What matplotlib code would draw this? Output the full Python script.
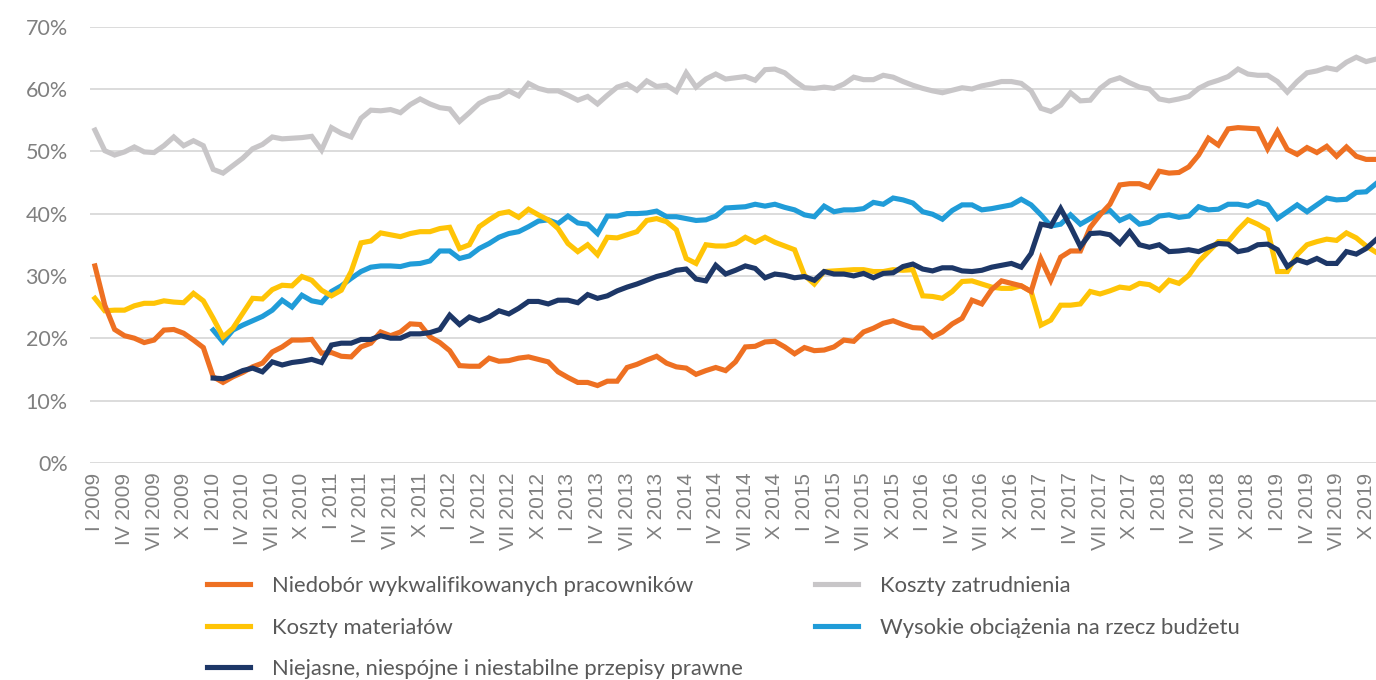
import matplotlib
matplotlib.use("Agg")
import matplotlib.pyplot as plt
import numpy as np

# ==========================================
# DATA (monthly, I 2009 .. XI 2019)
# ==========================================

start_year = 2009
roman = ["I", "II", "III", "IV", "V", "VI", "VII", "VIII", "IX", "X", "XI", "XII"]

niedobor = [
    31.6, 25.3, 21.4, 20.4, 20.0, 19.3, 19.7, 21.3, 21.4, 20.8, 19.7, 18.5,
    13.8, 12.9, 13.8, 14.5, 15.4, 16.0, 17.8, 18.6, 19.7, 19.7, 19.8, 17.6,
    17.7, 17.1, 17.0, 18.6, 19.2, 21.0, 20.4, 21.0, 22.3, 22.2, 20.2, 19.3,
    18.0, 15.6, 15.5, 15.5, 16.8, 16.3, 16.4, 16.8, 17.0, 16.6, 16.2, 14.6,
    13.7, 12.9, 12.9, 12.4, 13.1, 13.1, 15.3, 15.8, 16.5, 17.1, 16.0, 15.4,
    15.2, 14.2, 14.8, 15.3, 14.8, 16.2, 18.6, 18.7, 19.4, 19.5, 18.6, 17.5,
    18.5, 18.0, 18.1, 18.6, 19.7, 19.5, 21.0, 21.6, 22.4, 22.8, 22.2, 21.7,
    21.6, 20.2, 21.0, 22.3, 23.2, 26.1, 25.5, 27.8, 29.2, 28.8, 28.4, 27.5,
    32.7, 29.3, 33.0, 34.0, 34.0, 37.8, 39.8, 41.5, 44.6, 44.8, 44.8, 44.2,
    46.8, 46.5, 46.6, 47.5, 49.4, 52.1, 51.0, 53.6, 53.8, 53.7, 53.6, 50.4,
    53.2, 50.3, 49.5, 50.6, 49.8, 50.8, 49.2, 50.7, 49.2, 48.7, 48.7,
]

koszty_zatr = [
    53.4, 50.1, 49.4, 49.9, 50.7, 49.9, 49.8, 50.9, 52.3, 50.9, 51.7, 50.9,
    47.1, 46.5, 47.7, 48.9, 50.4, 51.1, 52.3, 52.0, 52.1, 52.2, 52.4, 50.2,
    53.8, 52.9, 52.3, 55.3, 56.6, 56.5, 56.7, 56.2, 57.5, 58.4, 57.6, 57.0,
    56.8, 54.8, 56.2, 57.7, 58.5, 58.8, 59.7, 58.9, 60.9, 60.1, 59.7, 59.7,
    59.0, 58.2, 58.8, 57.6, 59.0, 60.3, 60.8, 59.8, 61.3, 60.4, 60.6, 59.6,
    62.6, 60.3, 61.6, 62.4, 61.6, 61.8, 62.0, 61.4, 63.1, 63.2, 62.6, 61.3,
    60.2, 60.1, 60.3, 60.1, 60.8, 61.9, 61.5, 61.5, 62.2, 61.9, 61.2, 60.6,
    60.1, 59.7, 59.4, 59.8, 60.2, 60.0, 60.5, 60.8, 61.2, 61.2, 60.9, 59.7,
    56.9, 56.4, 57.4, 59.4, 58.1, 58.2, 60.1, 61.3, 61.8, 61.0, 60.3, 60.0,
    58.4, 58.1, 58.4, 58.8, 60.1, 60.9, 61.4, 62.0, 63.2, 62.4, 62.2, 62.2,
    61.2, 59.5, 61.2, 62.6, 62.9, 63.4, 63.1, 64.3, 65.1, 64.4, 64.8,
]

koszty_mat = [
    26.4, 24.4, 24.5, 24.5, 25.2, 25.6, 25.6, 26.0, 25.8, 25.7, 27.2, 26.0,
    23.2, 20.2, 21.6, 24.0, 26.4, 26.3, 27.8, 28.5, 28.4, 29.9, 29.3, 27.7,
    26.8, 27.7, 30.7, 35.3, 35.6, 36.9, 36.6, 36.3, 36.8, 37.1, 37.1, 37.6,
    37.8, 34.4, 35.0, 37.9, 39.0, 40.0, 40.3, 39.4, 40.7, 39.8, 39.0, 37.6,
    35.2, 33.9, 35.0, 33.4, 36.2, 36.1, 36.6, 37.1, 38.9, 39.2, 38.7, 37.4,
    32.8, 32.0, 35.0, 34.8, 34.8, 35.2, 36.2, 35.4, 36.2, 35.4, 34.8, 34.2,
    30.1, 28.7, 30.7, 30.8, 30.9, 31.0, 31.0, 30.7, 30.7, 31.0, 30.9, 31.0,
    26.8, 26.7, 26.4, 27.5, 29.1, 29.2, 28.7, 28.2, 28.0, 28.0, 28.4, 27.5,
    22.1, 22.9, 25.3, 25.3, 25.5, 27.5, 27.1, 27.6, 28.2, 28.0, 28.8, 28.6,
    27.7, 29.3, 28.8, 30.1, 32.3, 33.9, 35.5, 35.5, 37.4, 39.0, 38.3, 37.4,
    30.7, 30.7, 33.4, 35.0, 35.5, 35.9, 35.7, 36.9, 36.1, 34.8, 33.8,
]

# the next two series start in I 2010
obciazenia = [
    21.3, 19.4, 21.3, 22.1, 22.8, 23.5, 24.5, 26.1, 25.0, 26.9, 26.0, 25.7,
    27.5, 28.4, 29.6, 30.7, 31.4, 31.6, 31.6, 31.5, 31.9, 32.0, 32.4, 34.0,
    34.0, 32.8, 33.2, 34.4, 35.2, 36.2, 36.8, 37.1, 37.9, 38.8, 39.0, 38.4,
    39.6, 38.5, 38.3, 36.8, 39.6, 39.6, 40.0, 40.0, 40.1, 40.4, 39.5, 39.5,
    39.2, 38.9, 39.0, 39.6, 40.9, 41.0, 41.1, 41.5, 41.2, 41.5, 41.0, 40.6,
    39.8, 39.5, 41.2, 40.3, 40.6, 40.6, 40.8, 41.8, 41.5, 42.5, 42.2, 41.7,
    40.3, 39.9, 39.1, 40.5, 41.4, 41.4, 40.6, 40.8, 41.1, 41.4, 42.3, 41.4,
    39.8, 38.0, 38.3, 39.8, 38.3, 39.2, 40.1, 40.5, 38.9, 39.6, 38.3, 38.6,
    39.6, 39.8, 39.4, 39.6, 41.1, 40.6, 40.7, 41.5, 41.5, 41.2, 41.9, 41.4,
    39.2, 40.3, 41.4, 40.3, 41.4, 42.5, 42.2, 42.3, 43.4, 43.5, 44.8,
]

przepisy = [
    13.6, 13.5, 14.1, 14.8, 15.2, 14.6, 16.2, 15.7, 16.1, 16.3, 16.6, 16.1,
    18.9, 19.2, 19.2, 19.8, 19.8, 20.4, 20.0, 20.0, 20.7, 20.7, 20.9, 21.4,
    23.7, 22.2, 23.4, 22.8, 23.4, 24.4, 23.9, 24.8, 25.9, 25.9, 25.5, 26.1,
    26.1, 25.7, 27.0, 26.4, 26.8, 27.6, 28.2, 28.7, 29.3, 29.9, 30.3, 30.9,
    31.1, 29.5, 29.2, 31.7, 30.3, 30.9, 31.6, 31.2, 29.7, 30.3, 30.1, 29.7,
    29.9, 29.3, 30.7, 30.3, 30.3, 30.0, 30.4, 29.7, 30.4, 30.5, 31.5, 31.9,
    31.1, 30.8, 31.3, 31.3, 30.8, 30.7, 30.9, 31.4, 31.7, 32.0, 31.4, 33.6,
    38.3, 38.0, 40.8, 37.9, 34.7, 36.8, 36.9, 36.6, 35.2, 37.1, 35.0, 34.6,
    35.0, 33.9, 34.0, 34.2, 33.9, 34.6, 35.2, 35.1, 33.9, 34.2, 35.0, 35.1,
    34.2, 31.5, 32.6, 32.1, 32.8, 32.0, 32.0, 33.9, 33.5, 34.4, 35.8,
]

labels = [
    "Niedobór wykwalifikowanych pracowników",
    "Koszty zatrudnienia",
    "Koszty materiałów",
    "Wysokie obciążenia na rzecz budżetu",
    "Niejasne, niespójne i niestabilne przepisy prawne",
]
colors = ["#EE7022", "#C8C6C8", "#FFC406", "#209CD8", "#1D3767"]

# ==========================================
# PLOT
# ==========================================

plt.rcParams["font.family"] = ["Lato", "DejaVu Sans"]

n = len(niedobor)
x_all = np.arange(n)
x_late = np.arange(12, 12 + len(obciazenia))

fig = plt.figure(figsize=(13.76, 6.80), dpi=100)
ax = fig.add_axes([90 / 1376, 1 - 462.8 / 680, 1 - 90 / 1376, (462.8 - 26.7) / 680])

lw = 3.7
ax.plot(x_all, koszty_zatr, color=colors[1], lw=lw, label=labels[1], solid_joinstyle="miter")
ax.plot(x_late, obciazenia, color=colors[3], lw=lw, label=labels[3], solid_joinstyle="miter")
ax.plot(x_all, koszty_mat, color=colors[2], lw=lw, label=labels[2], solid_joinstyle="miter")
ax.plot(x_all, niedobor, color=colors[0], lw=lw, label=labels[0], solid_joinstyle="miter")
ax.plot(x_late, przepisy, color=colors[4], lw=lw, label=labels[4], solid_joinstyle="miter")

ax.set_xlim(-0.5, 130.0)
ax.set_ylim(0, 70)
ax.set_yticks(np.arange(0, 71, 10))
ax.set_yticklabels([f"{v}%" for v in range(0, 71, 10)])
ax.grid(axis="y", color="#D9D9D9", lw=1.3)
ax.set_axisbelow(True)
for s in ax.spines.values():
    s.set_visible(False)

ticks = list(range(0, n, 3))
ax.set_xticks(ticks)
ax.set_xticklabels([f"{roman[i % 12]} {start_year + i // 12}" for i in ticks],
                   rotation=90, family=["Liberation Sans", "DejaVu Sans"])
ax.tick_params(axis="x", length=0, pad=7, labelsize=15, labelcolor="#808080")
ax.tick_params(axis="y", length=0, pad=16, labelsize=15.5, labelcolor="#808080")

# legend: two columns, built from the plotted lines
h = {l.get_label(): l for l in ax.get_lines()}
leg_kw = dict(frameon=False, fontsize=15.8, handlelength=1.95, handletextpad=1.0,
              labelspacing=0.98, borderpad=0, borderaxespad=0, loc="upper left",
              labelcolor="#595959")
leg1 = fig.legend([h[labels[0]], h[labels[2]], h[labels[4]]],
                  [labels[0], labels[2], labels[4]],
                  bbox_to_anchor=(207 / 1376, 1 - 576 / 680), **leg_kw)
leg2 = fig.legend([h[labels[1]], h[labels[3]]], [labels[1], labels[3]],
                  bbox_to_anchor=(815 / 1376, 1 - 576 / 680), **leg_kw)

plt.savefig("out.png", dpi=100)
plt.close()
